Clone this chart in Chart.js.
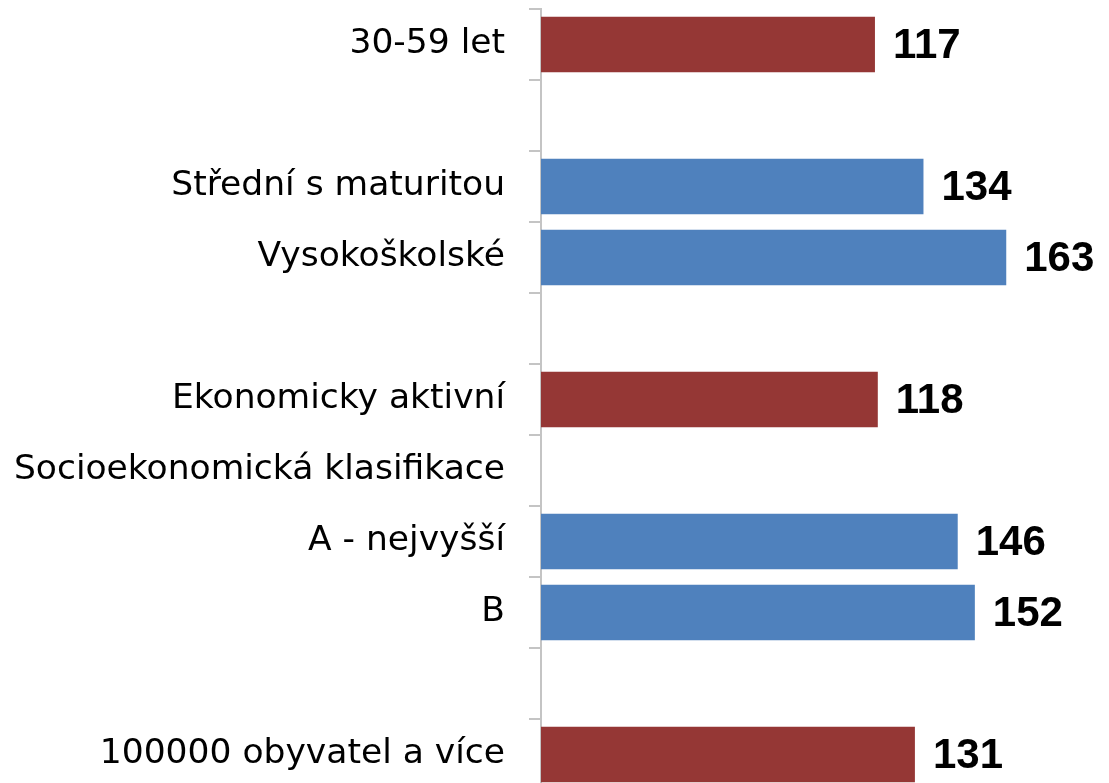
<!DOCTYPE html>
<html lang="cs">
<head>
    <meta charset="UTF-8">
    <title>Index</title>
    <script src="https://cdn.jsdelivr.net/npm/chart.js"></script>
    <style>
        html, body { margin: 0; padding: 0; background: #fff; overflow: hidden; }
        .chart-box { width: 1109px; height: 790px; position: relative; }
    </style>
</head>
<body>
    <div class="chart-box">
        <canvas id="indexChart"></canvas>
    </div>

    <script>
        // Data
        const categories = ['30-59 let', '', 'Střední s maturitou', 'Vysokoškolské', '', 'Ekonomicky aktivní',
            'Socioekonomická klasifikace', 'A - nejvyšší', 'B', '', '100000 obyvatel a více'];
        const values = [117, null, 134, 163, null, 118, null, 146, 152, null, 131];
        const groups = ['red', null, 'blue', 'blue', null, 'red', null, 'blue', 'blue', null, 'red'];

        const palette = { red: '#953735', blue: '#4F81BD' };

        // value labels at the end of each bar
        const valueLabels = {
            id: 'valueLabels',
            afterDatasetsDraw(chart) {
                const ctx = chart.ctx;
                const meta = chart.getDatasetMeta(0);
                ctx.save();
                ctx.font = 'bold 42px "Liberation Sans", Arial, sans-serif';
                ctx.fillStyle = '#000';
                ctx.textAlign = 'left';
                ctx.textBaseline = 'middle';
                meta.data.forEach((bar, i) => {
                    if (values[i] == null) return;
                    ctx.fillText(values[i], bar.x + 18, bar.y + 2);
                });
                ctx.restore();
            }
        };

        new Chart(document.getElementById('indexChart'), {
            type: 'bar',
            data: {
                labels: categories,
                datasets: [{
                    data: values,
                    backgroundColor: groups.map(g => g ? palette[g] : 'transparent'),
                    categoryPercentage: 1,
                    barPercentage: 0.78
                }]
            },
            options: {
                indexAxis: 'y',
                responsive: true,
                maintainAspectRatio: false,
                animation: false,
                layout: { padding: { top: 9, right: 0, bottom: 0, left: 0 } },
                plugins: {
                    legend: { display: false },
                    tooltip: { enabled: false }
                },
                scales: {
                    x: {
                        display: false,
                        min: 0,
                        max: 199
                    },
                    y: {
                        afterFit: s => {
                            s.width = 541;
                            s.paddingTop = 0;
                            s.paddingBottom = 0;
                        },
                        border: { display: true, color: '#c4c4c4', width: 2 },
                        grid: {
                            offset: true,
                            drawOnChartArea: false,
                            drawTicks: true,
                            tickLength: 12,
                            color: '#c4c4c4',
                            lineWidth: 2
                        },
                        ticks: {
                            padding: 24,
                            color: '#000',
                            font: { family: '"DejaVu Sans", Verdana, sans-serif', size: 34.5 }
                        }
                    }
                }
            },
            plugins: [valueLabels]
        });
    </script>
</body>
</html>
